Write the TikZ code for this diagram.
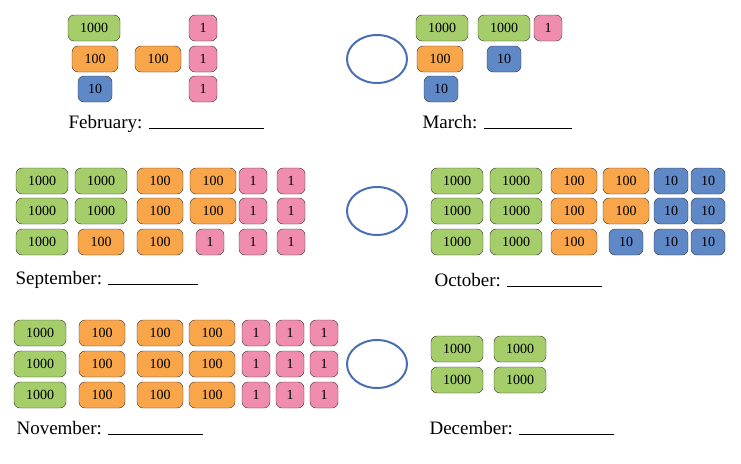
\documentclass[tikz,border=0pt]{standalone}
\usepackage{fontspec}
\setmainfont{Liberation Serif}
\definecolor{thgreen}{HTML}{A5CD6A}
\definecolor{huorange}{HTML}{F9A64B}
\definecolor{tenblue}{HTML}{5F88C6}
\definecolor{onepink}{HTML}{F08DAF}
\definecolor{ringblue}{HTML}{4A6EB4}
\tikzset{
	blk/.style={draw=black!80,rounded corners=6pt,minimum height=26pt,inner sep=1pt,font=\fontsize{14}{14}\selectfont},
	th/.style={blk,fill=thgreen,minimum width=52pt},
	hu/.style={blk,fill=huorange,minimum width=46pt},
	te/.style={blk,fill=tenblue,minimum width=34pt},
	on/.style={blk,fill=onepink,minimum width=28pt},
	ring/.style={draw=ringblue,line width=2pt,ellipse,minimum width=60pt,minimum height=48pt},
	month/.style={anchor=west,font=\fontsize{19}{19}\selectfont}
}
\usetikzlibrary{shapes.geometric}
\begin{document}
\begin{tikzpicture}[x=1pt,y=-1pt]
	\useasboundingbox (0,0) rectangle (741,463);
	% February
	\node[th] (f1) at (94,28) {1000};
	\node[hu] (f2) at (95,59) {100};
	\node[te] (f3) at (95,89) {10};
	\node[hu] (f4) at (158,59) {100};
	\foreach \y [count=\i] in {28,59,89}
		\node[on] (fo\i) at (203,\y) {1};
	\node[month] (feb) at (65,124) {February: \rule{115pt}{0.7pt}};
	\node[ring] (c1) at (377,59) {};
	% March
	\node[th] (m1) at (442,28) {1000};
	\node[th] (m2) at (504,28) {1000};
	\node[on] (m3) at (548,28) {1};
	\node[hu] (m4) at (440,59) {100};
	\node[te] (m5) at (504,59) {10};
	\node[te] (m6) at (441,89) {10};
	\node[month] (mar) at (419,122) {March: \rule{88pt}{0.7pt}};
	% September
	\foreach \y/\r in {181/1,211/2}{
		\foreach \x/\s/\t [count=\i] in {42/th/1000,101/th/1000,160/hu/100,213/hu/100,253/on/1,291/on/1}
			\node[\s] (s\r-\i) at (\x,\y) {\t};
	}
	\foreach \x/\s/\t [count=\i] in {42/th/1000,101/hu/100,160/hu/100,210/on/1,253/on/1,291/on/1}
		\node[\s] (s3-\i) at (\x,242) {\t};
	\node[month] (sep) at (12,280) {September: \rule{90pt}{0.7pt}};
	\node[ring] (c2) at (377,211) {};
	% October
	\foreach \y/\r in {181/1,211/2}{
		\foreach \x/\s/\t [count=\i] in {457/th/1000,516/th/1000,574/hu/100,626/hu/100,671/te/10,708/te/10}
			\node[\s] (o\r-\i) at (\x,\y) {\t};
	}
	\foreach \x/\s/\t [count=\i] in {457/th/1000,516/th/1000,574/hu/100,626/te/10,671/te/10,708/te/10}
		\node[\s] (o3-\i) at (\x,242) {\t};
	\node[month] (oct) at (431,280) {October: \rule{95pt}{0.7pt}};
	% November
	\foreach \y/\r in {333/1,364/2,395/3}{
		\foreach \x/\s/\t [count=\i] in {40/th/1000,102/hu/100,160/hu/100,212/hu/100,256/on/1,290/on/1,324/on/1}
			\node[\s] (n\r-\i) at (\x,\y) {\t};
	}
	\node[month] (nov) at (13,428) {November: \rule{95pt}{0.7pt}};
	\node[ring] (c3) at (377,364) {};
	% December
	\foreach \y/\r in {349/1,380/2}{
		\node[th] (d\r-1) at (457,\y) {1000};
		\node[th] (d\r-2) at (520,\y) {1000};
	}
	\node[month] (dec) at (426,428) {December: \rule{95pt}{0.7pt}};
\end{tikzpicture}
\end{document}
